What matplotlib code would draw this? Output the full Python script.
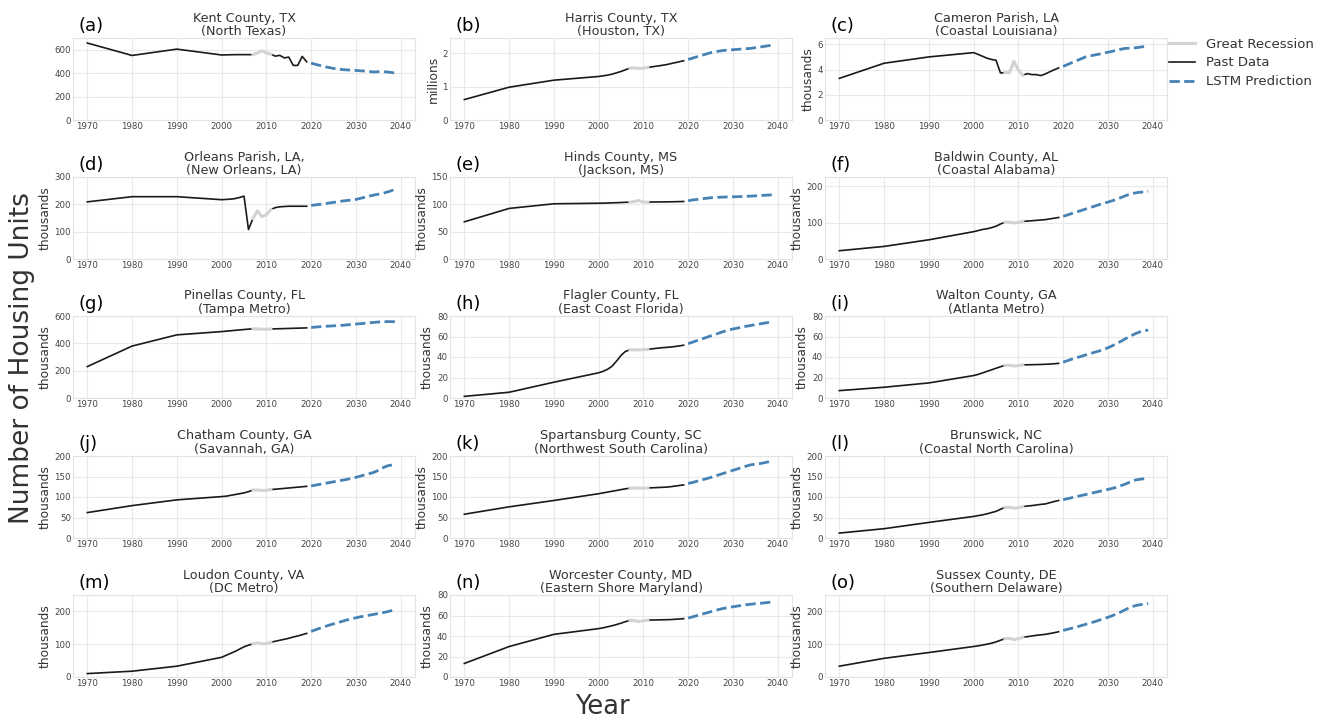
import numpy as np
import matplotlib.pyplot as plt

past_years = [1970, 1980, 1990, 2000, 2001, 2002, 2003, 2004, 2005, 2006, 2007, 2008,
              2009, 2010, 2011, 2012, 2013, 2014, 2015, 2016, 2017, 2018, 2019]
pred_years = [2020, 2021, 2022, 2023, 2024, 2025, 2026, 2027, 2028, 2029, 2030, 2031,
              2032, 2033, 2034, 2035, 2036, 2037, 2038, 2039]

# (a) Kent County, TX - raw units
kent_past = [657, 551, 605, 555, 556, 557, 558, 558, 558, 558, 558, 572, 590, 573, 562,
             545, 552, 530, 537, 466, 466, 543, 497]
kent_pred = [485, 475, 465, 455, 448, 440, 435, 430, 428, 425, 423, 420, 418, 414, 410,
             412, 412, 410, 405, 400]
# (b) Harris County, TX - millions
harris_past = [0.61, 0.98, 1.19, 1.30, 1.32, 1.34, 1.37, 1.41, 1.45, 1.50, 1.55, 1.56,
               1.54, 1.55, 1.57, 1.59, 1.61, 1.63, 1.65, 1.68, 1.71, 1.74, 1.77]
harris_pred = [1.81, 1.85, 1.89, 1.93, 1.97, 2.01, 2.04, 2.06, 2.08, 2.09, 2.10, 2.11,
               2.12, 2.13, 2.14, 2.16, 2.18, 2.20, 2.22, 2.25]
# (c) Cameron Parish, LA - thousands
cameron_past = [3.3, 4.5, 5.0, 5.34, 5.2, 5.05, 4.9, 4.8, 4.74, 3.73, 3.75, 3.75, 4.66,
                3.95, 3.55, 3.68, 3.6, 3.6, 3.52, 3.65, 3.82, 3.98, 4.13]
cameron_pred = [4.25, 4.4, 4.55, 4.7, 4.85, 5.0, 5.08, 5.15, 5.22, 5.3, 5.37, 5.45,
                5.53, 5.62, 5.68, 5.7, 5.72, 5.76, 5.82, 5.88]
# (d) Orleans Parish, LA
orleans_past = [209, 228, 228, 217, 218, 219, 221, 225, 230, 108, 148, 176, 155, 162,
                181, 188, 191, 192, 193, 193, 193, 193, 193]
orleans_pred = [196, 198, 200, 202, 205, 207, 210, 212, 214, 216, 218, 222, 226, 230,
                234, 237, 240, 245, 250, 262]
# (e) Hinds County, MS
hinds_past = [68, 92.5, 101, 102, 102.2, 102.4, 102.7, 103, 103.3, 103.7, 104, 105, 107,
              104, 104, 104.2, 104.3, 104.4, 104.5, 104.6, 104.8, 105, 105.2]
hinds_pred = [106.5, 108, 109, 110, 111, 112, 112.5, 113, 113.3, 113.5, 113.7, 114,
              114.3, 114.7, 115, 115.5, 116, 116.5, 117, 117.5]
# (f) Baldwin County, AL
baldwin_past = [22.7, 34.5, 52.7, 75, 78, 81, 83, 86, 90, 96, 101, 101, 99, 100, 103,
                104, 105, 106, 107, 108, 110, 112, 114]
baldwin_pred = [117, 121, 125, 129, 133, 137, 141, 145, 149, 153, 156, 160, 164, 169,
                174, 178, 181, 183, 184, 186]
# (g) Pinellas County, FL
pinellas_past = [230, 380, 462, 486, 489, 492, 495, 498, 501, 504, 506, 505, 503, 503,
                 505, 506, 507, 508, 509, 510, 511, 512, 513]
pinellas_pred = [516, 519, 522, 524, 526, 528, 530, 532, 535, 538, 541, 544, 547, 550,
                 553, 556, 558, 559, 559, 558]
# (h) Flagler County, FL
flagler_past = [1.6, 5.6, 15.4, 24.6, 26, 28, 31, 36, 41.5, 45.5, 47, 47, 47, 47, 47.5,
                48, 48.5, 49, 49.3, 49.7, 50.2, 50.8, 51.5]
flagler_pred = [53, 54.5, 56, 57.5, 59, 60.5, 62, 63.5, 65, 66.3, 67.3, 68.2, 69.2, 70,
                70.8, 71.5, 72.3, 73, 73.8, 74.6]
# (i) Walton County, GA
walton_past = [7.2, 10.5, 14.7, 21.9, 23, 24.5, 26, 27.5, 29, 30.5, 31.8, 32, 31.2,
               31.6, 32.3, 32.4, 32.5, 32.6, 32.7, 32.9, 33.1, 33.4, 33.8]
walton_pred = [35, 36.5, 38, 39.3, 40.6, 42, 43.3, 44.6, 45.8, 47.3, 49, 51, 53.2, 55.5,
               58, 60.3, 62.5, 64.3, 65.5, 66.3]
# (j) Chatham County, GA
chatham_past = [62, 79, 93, 101, 102, 104, 106, 108, 110, 113, 117, 117, 116, 116, 118,
                119, 120, 121, 122, 123, 124, 125, 126]
chatham_pred = [127, 129, 131, 133, 135, 137, 139, 141, 143, 145.5, 148, 151, 154, 157,
                160, 165, 171, 176, 178, 180]
# (k) Spartansburg County, SC
spartan_past = [58, 76, 91.5, 108, 110, 112, 114, 116, 118, 120, 121.5, 122, 121.5,
                121.5, 122, 122.5, 123, 123.5, 124, 125, 126.5, 128, 129.5]
spartan_pred = [133, 135.5, 138.5, 141.5, 144.5, 147.5, 151, 154.5, 158, 161.5, 165,
                168.5, 172, 175.5, 178.5, 180, 181.5, 183.5, 186, 189]
# (l) Brunswick, NC
brunswick_past = [12, 22.7, 38, 52.6, 54.5, 56.5, 59, 62, 65, 70, 74.5, 75, 73, 73.5,
                  76.5, 78, 79, 80.5, 82, 83, 86, 89, 91.5]
brunswick_pred = [93.5, 96, 98.5, 101, 103.5, 106, 108.5, 111, 113.5, 116, 118.5, 121,
                  124, 128, 132, 137, 141, 143, 144.5, 145.5]
# (m) Loudon County, VA
loudon_past = [10.4, 17.7, 33, 60, 66, 72, 78, 85, 92, 97, 101, 104, 101, 102, 106, 109,
               112, 115, 118, 122, 125, 129, 133]
loudon_pred = [139, 144, 149, 153.5, 158, 162, 166, 170, 174, 177.5, 180.5, 183.5, 186,
               188.5, 191, 193.5, 196, 199, 202.5, 206]
# (n) Worcester County, MD
worcester_past = [13.2, 29.7, 41.6, 47.2, 48, 49, 50, 51.2, 52.5, 54, 55.3, 55, 54.2,
                  54.8, 55.5, 55.6, 55.7, 55.8, 55.9, 56, 56.3, 56.6, 56.9]
worcester_pred = [57.5, 58.7, 60, 61.2, 62.4, 63.6, 64.8, 66, 67, 67.8, 68.5, 69.2, 69.9,
                  70.5, 71, 71.5, 71.9, 72.3, 72.8, 73.3]
# (o) Sussex County, DE
sussex_past = [33, 57, 74.6, 93, 95, 97.5, 100, 103, 107, 112, 117, 118, 114, 117, 121,
               123, 125, 127, 128.5, 130, 132.5, 135, 138]
sussex_pred = [142, 145.5, 149, 152.5, 156.5, 160.5, 164.5, 168.5, 173, 177.5, 182, 187,
               193, 199, 206, 212, 217, 220, 222, 224]

panel_tags = ["(a)", "(b)", "(c)", "(d)", "(e)", "(f)", "(g)", "(h)", "(i)", "(j)",
              "(k)", "(l)", "(m)", "(n)", "(o)"]
titles = ["Kent County, TX\n(North Texas)", "Harris County, TX\n(Houston, TX)",
          "Cameron Parish, LA\n(Coastal Louisiana)", "Orleans Parish, LA,\n(New Orleans, LA)",
          "Hinds County, MS\n(Jackson, MS)", "Baldwin County, AL\n(Coastal Alabama)",
          "Pinellas County, FL\n(Tampa Metro)", "Flagler County, FL\n(East Coast Florida)",
          "Walton County, GA\n(Atlanta Metro)", "Chatham County, GA\n(Savannah, GA)",
          "Spartansburg County, SC\n(Northwest South Carolina)",
          "Brunswick, NC\n(Coastal North Carolina)", "Loudon County, VA\n(DC Metro)",
          "Worcester County, MD\n(Eastern Shore Maryland)",
          "Sussex County, DE\n(Southern Delaware)"]
unit_labels = ["", "millions", "thousands", "thousands", "thousands", "thousands",
               "thousands", "thousands", "thousands", "thousands", "thousands",
               "thousands", "thousands", "thousands", "thousands"]
y_tops = [700, 2.45, 6.5, 300, 150, 225, 600, 80, 80, 200, 200, 200, 250, 80, 250]
y_ticks = [[0, 200, 400, 600], [0, 1, 2], [0, 2, 4, 6], [0, 100, 200, 300],
           [0, 50, 100, 150], [0, 100, 200], [0, 200, 400, 600], [0, 20, 40, 60, 80],
           [0, 20, 40, 60, 80], [0, 50, 100, 150, 200], [0, 50, 100, 150, 200],
           [0, 50, 100, 150, 200], [0, 100, 200], [0, 20, 40, 60, 80], [0, 100, 200]]

past_series = [kent_past, harris_past, cameron_past, orleans_past, hinds_past,
               baldwin_past, pinellas_past, flagler_past, walton_past, chatham_past,
               spartan_past, brunswick_past, loudon_past, worcester_past, sussex_past]
pred_series = [kent_pred, harris_pred, cameron_pred, orleans_pred, hinds_pred,
               baldwin_pred, pinellas_pred, flagler_pred, walton_pred, chatham_pred,
               spartan_pred, brunswick_pred, loudon_pred, worcester_pred, sussex_pred]

TEXT = "#333333"
GRID = "#e9e9e9"
W, H = 1324, 720
col_left = [73, 450, 825]
row_bottom = [120, 259, 398, 538, 677]
ax_w, ax_h = 342, 82

fig = plt.figure(figsize=(W / 100, H / 100), dpi=100)
axes = []
for i in range(15):
    r, c = divmod(i, 3)
    ax = fig.add_axes([col_left[c] / W, 1 - row_bottom[r] / H, ax_w / W, ax_h / H])
    axes.append(ax)

    yrs = np.array(past_years)
    vals = np.array(past_series[i])
    before = yrs <= 2007
    rec = (yrs >= 2007) & (yrs <= 2011)
    after = yrs >= 2011
    ax.plot(yrs[before], vals[before], color="#1a1a1a", lw=1.2)
    ax.plot(yrs[after], vals[after], color="#1a1a1a", lw=1.2)
    ax.plot(yrs[rec], vals[rec], color="#d3d3d3", lw=2.2)
    ax.plot(pred_years, pred_series[i], color="#4682b4", lw=2, ls="--")

    ax.set_xlim(1966.8, 2043.2)
    ax.set_ylim(0, y_tops[i])
    ax.set_xticks([1970, 1980, 1990, 2000, 2010, 2020, 2030, 2040])
    ax.set_yticks(y_ticks[i])
    ax.grid(True, color=GRID, lw=0.8)
    ax.set_axisbelow(True)
    for s in ax.spines.values():
        s.set_color("#e3e3e3")
        s.set_linewidth(0.8)
    ax.tick_params(length=0, pad=1.5, labelsize=6.2, labelcolor="#444444")
    ax.set_title(titles[i], fontsize=9.2, color=TEXT, pad=1, linespacing=1.05)
    if unit_labels[i]:
        ax.set_ylabel(unit_labels[i], fontsize=8.8, color=TEXT, labelpad=2)
    ax.text(0.015, 1.04, panel_tags[i], transform=ax.transAxes, fontsize=13,
            color="black", ha="left", va="bottom")

h_rec = axes[2].lines[2]
h_past = axes[2].lines[0]
h_pred = axes[2].lines[3]
axes[2].legend([h_rec, h_past, h_pred], ["Great Recession", "Past Data", "LSTM Prediction"],
               loc="upper left", bbox_to_anchor=(0.99, 1.07), frameon=False,
               fontsize=9.5, labelcolor=TEXT, handlelength=2.0, handletextpad=0.8,
               labelspacing=0.45, borderaxespad=0)

fig.text(22 / W, 1 - 358 / H, "Number of Housing Units", rotation=90, fontsize=19,
         color=TEXT, ha="center", va="center")
fig.text(602 / W, 1 - 707 / H, "Year", fontsize=18.5, color=TEXT, ha="center",
         va="center")

fig.savefig("out.png", dpi=100)
